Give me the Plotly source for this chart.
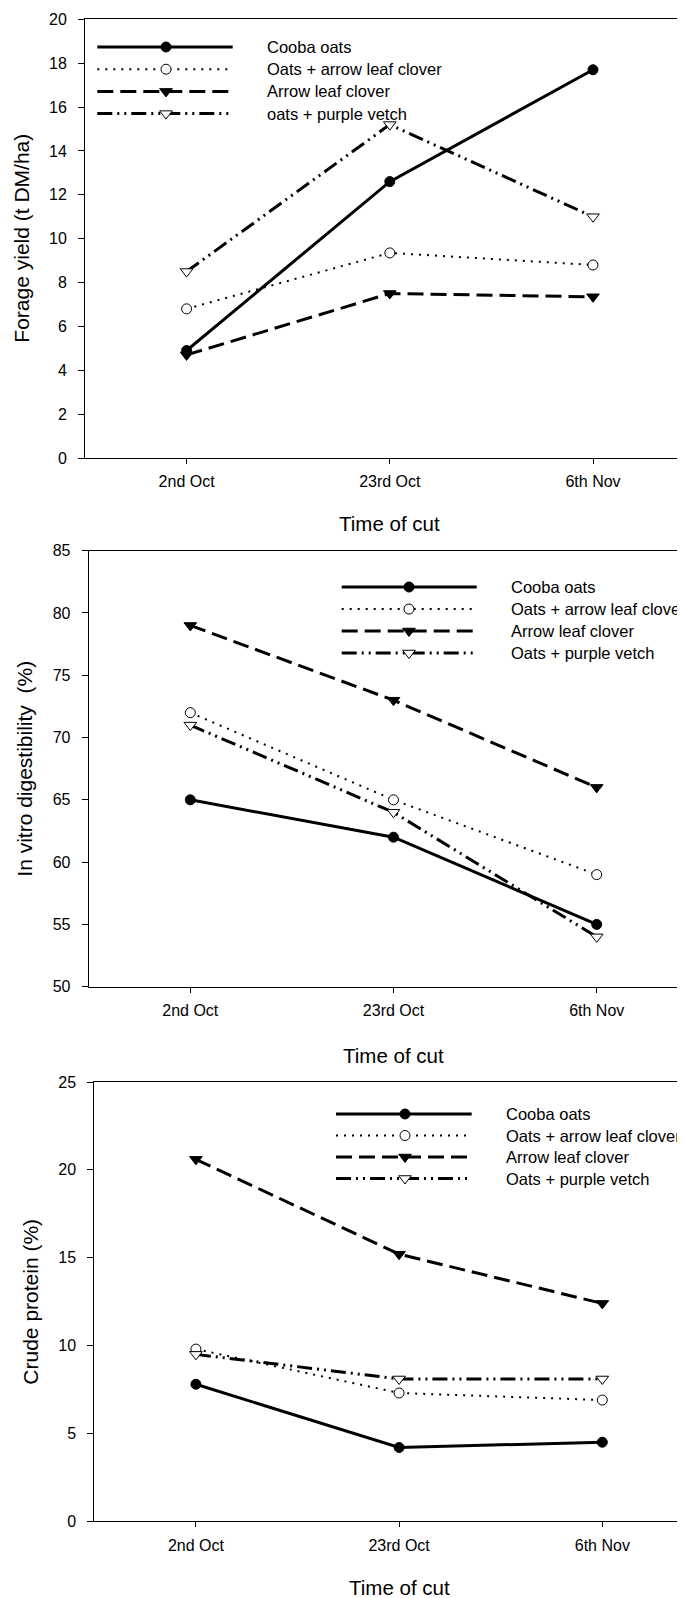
import plotly.graph_objects as go

# ---------------- data ----------------
categories = ["2nd Oct", "23rd Oct", "6th Nov"]

names_panel1 = ["Cooba oats", "Oats + arrow leaf clover", "Arrow leaf clover", "oats + purple vetch"]
names_panel23 = ["Cooba oats", "Oats + arrow leaf clover", "Arrow leaf clover", "Oats + purple vetch"]

yield_cooba = [4.9, 12.6, 17.7]
yield_oats_alc = [6.8, 9.35, 8.8]
yield_alc = [4.7, 7.5, 7.35]
yield_oats_pv = [8.5, 15.2, 11.0]

ivd_cooba = [65, 62, 55]
ivd_oats_alc = [72, 65, 59]
ivd_alc = [79, 73, 66]
ivd_oats_pv = [71, 64, 54]

cp_cooba = [7.8, 4.2, 4.5]
cp_oats_alc = [9.8, 7.3, 6.9]
cp_alc = [20.6, 15.2, 12.4]
cp_oats_pv = [9.5, 8.1, 8.1]

y_titles = ["Forage yield (t DM/ha)", "In vitro digestibility  (%)", "Crude protein (%)"]
x_title = "Time of cut"

# ---------------- layout geometry ----------------
PAGE_W, PAGE_H = 685, 1598
OFF = 8                      # default page body margin
W, H = PAGE_W - OFF, PAGE_H - OFF
FONT = "Arial, Liberation Sans, Helvetica, sans-serif"


def fx(px):
    return (px - OFF) / W


def fy(py):
    return 1 - (py - OFF) / H


styles = [
    dict(line=dict(color="black", width=3, dash="solid"),
         marker=dict(symbol="circle", size=10, color="black", line=dict(color="black", width=1))),
    dict(line=dict(color="black", width=2, dash="2px,6px"),
         marker=dict(symbol="circle", size=10, color="white", line=dict(color="black", width=1))),
    dict(line=dict(color="black", width=3, dash="16px,7px"),
         marker=dict(symbol="triangle-down", size=11, color="black", line=dict(color="black", width=1))),
    dict(line=dict(color="black", width=3, dash="15px,5px,2px,5px,2px,5px"),
         marker=dict(symbol="triangle-down", size=11, color="white", line=dict(color="black", width=1))),
]

CAT_SPACING = 203.2  # pixels between categories

panels = [
    dict(series=[yield_cooba, yield_oats_alc, yield_alc, yield_oats_pv], names=names_panel1,
         top=19.3, bot=458.0, left=85.0, yrange=[0, 20], dtick=2,
         ytitle_x=22, xtitle_y=523.5,
         leg_x0=97.3, leg_xm=166, leg_x1=232.7, leg_tx=265, leg_rows=[47, 69.2, 91.4, 113.6]),
    dict(series=[ivd_cooba, ivd_oats_alc, ivd_alc, ivd_oats_pv], names=names_panel23,
         top=550.7, bot=986.7, left=88.7, yrange=[50, 85], dtick=5,
         ytitle_x=25, xtitle_y=1055,
         leg_x0=341.7, leg_xm=409, leg_x1=476.7, leg_tx=509.3, leg_rows=[587, 609, 631, 653]),
    dict(series=[cp_cooba, cp_oats_alc, cp_alc, cp_oats_pv], names=names_panel23,
         top=1082.0, bot=1521.3, left=94.3, yrange=[0, 25], dtick=5,
         ytitle_x=31, xtitle_y=1587,
         leg_x0=336, leg_xm=405, leg_x1=471.7, leg_tx=504.3, leg_rows=[1114, 1135.5, 1157, 1178.5]),
]

fig = go.Figure()
annotations = []

for i, p in enumerate(panels):
    n = i + 1
    xa = "x" if n == 1 else f"x{n}"
    ya = "y" if n == 1 else f"y{n}"
    for vals, st in zip(p["series"], styles):
        fig.add_trace(go.Scatter(
            x=categories, y=vals, mode="lines+markers",
            line=st["line"], marker=st["marker"],
            xaxis=xa, yaxis=ya, showlegend=False, hoverinfo="skip"))

    xr_end = -0.5 + (PAGE_W - p["left"]) / CAT_SPACING
    fig.layout[f"xaxis{'' if n == 1 else n}"] = dict(
        domain=[fx(p["left"]), 1.0], anchor=ya, type="category",
        categoryorder="array", categoryarray=categories,
        range=[-0.5, xr_end], showgrid=False, zeroline=False,
        showline=True, linecolor="black", linewidth=1, mirror=True,
        ticks="outside", ticklen=5, tickwidth=1, tickcolor="black",
        tickfont=dict(family=FONT, size=16, color="black"),
        ticklabelstandoff=4, automargin=False,
    )
    fig.layout[f"yaxis{'' if n == 1 else n}"] = dict(
        domain=[fy(p["bot"]), fy(p["top"])], anchor=xa,
        range=p["yrange"], tickmode="linear", tick0=p["yrange"][0], dtick=p["dtick"],
        showgrid=False, zeroline=False,
        showline=True, linecolor="black", linewidth=1, mirror=False,
        ticks="outside", ticklen=6, tickwidth=1, tickcolor="black",
        tickfont=dict(family=FONT, size=16, color="black"),
        ticklabelstandoff=8, automargin=False,
    )

    plot_center_x = p["left"] + 3 * CAT_SPACING / 2
    annotations.append(dict(
        text=x_title, xref="paper", yref="paper",
        x=fx(plot_center_x), y=fy(p["xtitle_y"]),
        xanchor="center", yanchor="middle", showarrow=False,
        font=dict(family=FONT, size=20.5, color="black")))
    annotations.append(dict(
        text=y_titles[i], xref="paper", yref="paper",
        x=fx(p["ytitle_x"]), y=fy((p["top"] + p["bot"]) / 2),
        xanchor="center", yanchor="middle", textangle=-90, showarrow=False,
        font=dict(family=FONT, size=21, color="black")))

    # legend drawn manually on a hidden page-pixel overlay axis
    for name, st, ry in zip(p["names"], styles, p["leg_rows"]):
        fig.add_trace(go.Scatter(
            x=[p["leg_x0"], p["leg_x1"]], y=[ry, ry], mode="lines",
            line=st["line"], xaxis="x4", yaxis="y4",
            showlegend=False, hoverinfo="skip"))
        fig.add_trace(go.Scatter(
            x=[p["leg_xm"]], y=[ry], mode="markers",
            marker=st["marker"], xaxis="x4", yaxis="y4",
            showlegend=False, hoverinfo="skip"))
        annotations.append(dict(
            text=name, xref="x4", yref="y4", x=p["leg_tx"], y=ry,
            xanchor="left", yanchor="middle", showarrow=False,
            font=dict(family=FONT, size=16.5, color="black")))

fig.update_layout(
    xaxis4=dict(domain=[0, 1], range=[OFF, PAGE_W], visible=False, anchor="y4", automargin=False),
    yaxis4=dict(domain=[0, 1], range=[PAGE_H, OFF], visible=False, anchor="x4", automargin=False),
)

fig.update_layout(
    width=W, height=H,
    margin=dict(l=0, r=0, t=0, b=0, autoexpand=False),
    paper_bgcolor="white",
    plot_bgcolor="rgba(0,0,0,0)",
    showlegend=False,
    annotations=annotations,
    font=dict(family=FONT, color="black"),
)

fig.write_html("out.html")
